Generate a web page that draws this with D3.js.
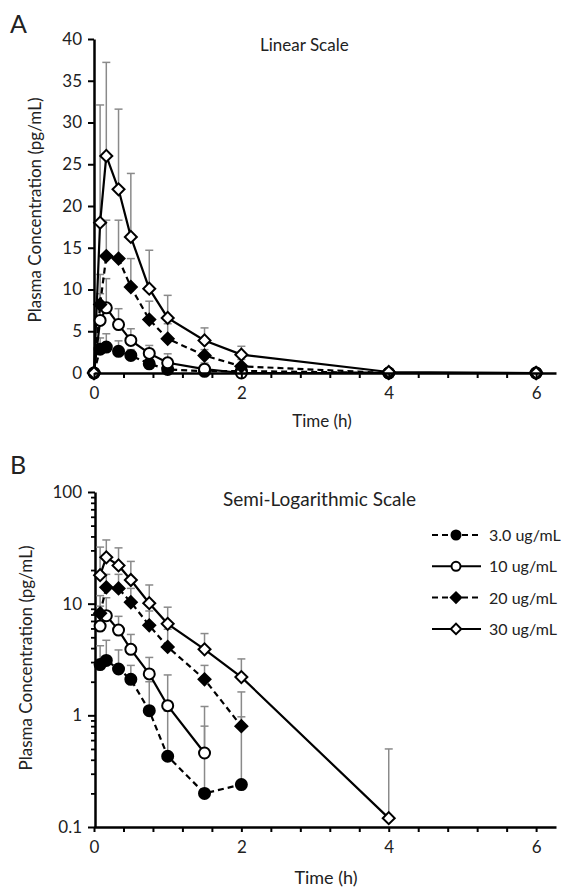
<!DOCTYPE html>
<html lang="en">
<head>
<meta charset="utf-8">
<title>Plasma concentration</title>
<script src="https://d3js.org/d3.v7.min.js"></script>
<style>
  body { margin: 0; background: #fff; }
  text { font-family: Lato, "Open Sans", sans-serif; fill: #222; }
</style>
</head>
<body>
<div id="chart"></div>
<script>
var width = 563, height = 887;

// sampling times (h)
var times = [0, 0.083, 0.167, 0.333, 0.5, 0.75, 1, 1.5, 2, 4, 6];

// mean concentrations (pg/mL) and upper SD per dose
var conc3  = [0, 2.85, 3.1, 2.6, 2.1, 1.1, 0.43, 0.2, 0.24, 0, 0];
var sd3    = [0, 1.35, 1.6, 1.25, 0.7, 0.9, 0.66, 0.6, 0.73, 0, 0];
var conc10 = [0, 6.3, 7.8, 5.8, 3.9, 2.35, 1.22, 0.46, 0, 0, 0];
var sd10   = [0, 3.2, 3.5, 1.9, 1.4, 0.95, 1.08, 0.74, 0, 0, 0];
var conc20 = [0, 8.2, 14.0, 13.7, 10.3, 6.4, 4.1, 2.1, 0.8, 0, 0];
var sd20   = [0, 3.6, 4.3, 4.6, 3.4, 2.2, 1.8, 0.7, 0.82, 0, 0];
var conc30 = [0, 18.0, 26.0, 22.0, 16.3, 10.1, 6.6, 3.9, 2.2, 0.12, 0];
var sd30   = [0, 14.1, 11.2, 9.6, 7.6, 4.6, 2.7, 1.5, 1.0, 0.38, 0];

var doseLabels = ["3.0 ug/mL", "10 ug/mL", "20 ug/mL", "30 ug/mL"];
var xLabelTicks = [0, 2, 4, 6];
var linTicks = [0, 5, 10, 15, 20, 25, 30, 35, 40];
var logTicks = [0.1, 1, 10, 100];

var series = [
  {name: doseLabels[0], y: conc3,  sd: sd3,  dash: "6,4", shape: "circle",  fill: "#000"},
  {name: doseLabels[1], y: conc10, sd: sd10, dash: null,  shape: "circle",  fill: "#fff"},
  {name: doseLabels[2], y: conc20, sd: sd20, dash: "6,4", shape: "diamond", fill: "#000"},
  {name: doseLabels[3], y: conc30, sd: sd30, dash: null,  shape: "diamond", fill: "#fff"}
];

var svg = d3.select("#chart").append("svg")
  .attr("width", width)
  .attr("height", height);

var x = d3.scaleLinear().domain([0, 6.27]).range([94, 556]);
var yLin = d3.scaleLinear().domain([0, 40]).range([373, 39]);
var yLog = d3.scaleLog().domain([0.1, 100]).range([827, 492]);

function marker(g, s, px, py, small) {
  if (s.shape == "circle") {
    g.append("circle").attr("cx", px).attr("cy", py).attr("r", small ? 4.5 : 5.5)
      .attr("fill", s.fill).attr("stroke", "#000").attr("stroke-width", 2);
  } else {
    g.append("path")
      .attr("d", d3.symbol().type(d3.symbolSquare).size(small ? 55 : 72)())
      .attr("transform", "translate(" + px + "," + py + ") rotate(45)")
      .attr("fill", s.fill).attr("stroke", "#000").attr("stroke-width", 2);
  }
}

function xAxis(yPos) {
  var ax = d3.axisBottom(x)
    .tickValues(d3.range(0, 6.01, 0.4))
    .tickFormat(function(d) {
      var r = Math.round(d * 10) / 10;
      return xLabelTicks.indexOf(r) >= 0 ? r : "";
    })
    .tickSize(5).tickSizeOuter(0).tickPadding(9);
  var g = svg.append("g").attr("transform", "translate(0," + yPos + ")").call(ax);
  g.select(".domain").attr("stroke-width", 2.5);
  g.selectAll(".tick line").attr("stroke-width", 2);
  g.selectAll("text").style("font-size", "17px").attr("fill", "#222");
  return g;
}

function drawPanel(y, isLog) {
  var ok = function(v) { return isLog ? v > 0 : true; };
  var g = svg.append("g");

  // error bars (upper only)
  series.forEach(function(s) {
    times.forEach(function(t, i) {
      if (s.sd[i] <= 0 || !ok(s.y[i])) return;
      var px = x(t), y0 = y(s.y[i]), y1 = y(s.y[i] + s.sd[i]);
      g.append("line").attr("x1", px).attr("x2", px).attr("y1", y0).attr("y2", y1)
        .attr("stroke", "#8a8a8a").attr("stroke-width", 1.5);
      g.append("line").attr("x1", px - 4).attr("x2", px + 4).attr("y1", y1).attr("y2", y1)
        .attr("stroke", "#8a8a8a").attr("stroke-width", 1.5);
    });
  });

  var line = d3.line()
    .x(function(d) { return x(d[0]); })
    .y(function(d) { return y(d[1]); });

  series.forEach(function(s) {
    var pts = times.map(function(t, i) { return [t, s.y[i]]; }).filter(function(d) { return ok(d[1]); });
    g.append("path").datum(pts).attr("d", line)
      .attr("fill", "none").attr("stroke", "#000").attr("stroke-width", 2.2)
      .attr("stroke-dasharray", s.dash);
  });

  series.forEach(function(s) {
    times.forEach(function(t, i) {
      if (!ok(s.y[i])) return;
      marker(g, s, x(t), y(s.y[i]));
    });
  });
}

// ---- Panel A : linear ----
var ayA = svg.append("g").attr("transform", "translate(94,0)")
  .call(d3.axisLeft(yLin).tickValues(linTicks).tickSize(6).tickSizeOuter(0).tickPadding(6));
ayA.select(".domain").attr("stroke-width", 2.5);
ayA.selectAll(".tick line").attr("stroke-width", 2);
ayA.selectAll("text").style("font-size", "17px").attr("fill", "#222");

drawPanel(yLin, false);
xAxis(373);

svg.append("text").attr("x", 260).attr("y", 51).style("font-size", "17px").text("Linear Scale");
svg.append("text").attr("x", 10).attr("y", 33).style("font-size", "25px").text("A");
svg.append("text").attr("x", 322).attr("y", 427).attr("text-anchor", "middle")
  .style("font-size", "17px").text("Time (h)");
svg.append("text").attr("transform", "translate(41,210) rotate(-90)")
  .attr("text-anchor", "middle").style("font-size", "17px")
  .text("Plasma Concentration (pg/mL)");

// ---- Panel B : semi-log ----
var minorVals = [];
[0.1, 1, 10].forEach(function(d) {
  for (var k = 2; k <= 9; k++) minorVals.push(d * k);
});
var ayBm = svg.append("g").attr("transform", "translate(95,0)")
  .call(d3.axisLeft(yLog).tickValues(minorVals).tickFormat("").tickSize(4).tickSizeOuter(0));
ayBm.select(".domain").remove();
ayBm.selectAll(".tick line").attr("stroke-width", 1.8);

var ayB = svg.append("g").attr("transform", "translate(95,0)")
  .call(d3.axisLeft(yLog).tickValues(logTicks).tickFormat(function(d) { return d < 1 ? "0.1" : d; })
    .tickSize(7).tickSizeOuter(0).tickPadding(6));
ayB.select(".domain").attr("stroke-width", 2.5);
ayB.selectAll(".tick line").attr("stroke-width", 2);
ayB.selectAll("text").style("font-size", "17px").attr("fill", "#222");

drawPanel(yLog, true);
xAxis(827);

svg.append("text").attr("x", 10).attr("y", 474).style("font-size", "25px").text("B");
svg.append("text").attr("x", 223).attr("y", 506).style("font-size", "19px").text("Semi-Logarithmic Scale");
svg.append("text").attr("x", 326).attr("y", 884).attr("text-anchor", "middle")
  .style("font-size", "18px").text("Time (h)");
svg.append("text").attr("transform", "translate(32,658) rotate(-90)")
  .attr("text-anchor", "middle").style("font-size", "17px")
  .text("Plasma Concentration (pg/mL)");

// legend (slightly smaller than the source so the labels stay inside the frame)
var leg = svg.append("g");
series.forEach(function(s, i) {
  var ly = 535 + i * 31.3;
  leg.append("line").attr("x1", 432).attr("x2", 481).attr("y1", ly).attr("y2", ly)
    .attr("stroke", "#000").attr("stroke-width", 2).attr("stroke-dasharray", s.dash);
  marker(leg, s, 456, ly, true);
  leg.append("text").attr("x", 489).attr("y", ly + 6).style("font-size", "16px").text(s.name);
});
</script>
</body>
</html>
